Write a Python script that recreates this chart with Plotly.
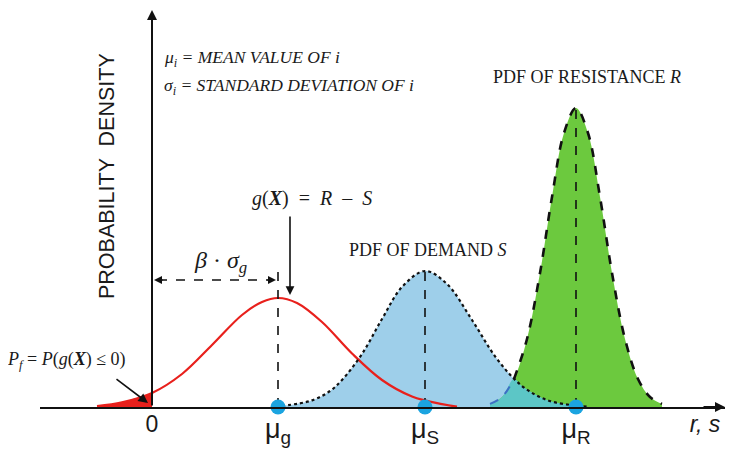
import plotly.graph_objects as go

# ---- data (x: r,s axis units, y: probability density units) ----
mu_labels = ["μ<sub>g</sub>", "μ<sub>S</sub>", "μ<sub>R</sub>"]
mu_g, mu_S, mu_R = 1.26, 2.73, 4.24
end_labels = ["0", "<i>r, s</i>"]
end_pos = [0, 5.53]

g_x = [-0.55, -0.3, 0.0, 0.3, 0.6, 0.9, 1.1, 1.26, 1.45, 1.7, 2.0, 2.3, 2.6, 2.9, 3.05]
g_y = [0.008, 0.046, 0.14, 0.33, 0.62, 0.92, 1.05, 1.09, 1.04, 0.85, 0.535, 0.27, 0.105, 0.028, 0.004]

pf_x = [-0.55, -0.3, 0.0, 0.0]
pf_y = [0.008, 0.046, 0.14, 0.0]

s_x = [1.3, 1.6, 1.78, 1.9, 2.1, 2.3, 2.5, 2.73, 2.95, 3.2, 3.45, 3.7, 3.95, 4.2, 4.35]
s_y = [0.011, 0.066, 0.16, 0.27, 0.53, 0.88, 1.20, 1.36, 1.23, 0.87, 0.48, 0.21, 0.069, 0.018, 0.004]

r_x = [3.38, 3.5, 3.62, 3.75, 3.88, 4.0, 4.12, 4.24, 4.36, 4.48, 4.6, 4.73, 4.86, 4.98, 5.1]
r_y = [0.031, 0.10, 0.28, 0.68, 1.34, 2.10, 2.74, 2.99, 2.74, 2.10, 1.34, 0.68, 0.28, 0.10, 0.031]

ov_x = [3.38, 3.5, 3.62, 3.7, 3.95, 4.2, 4.35]
ov_y = [0.031, 0.10, 0.28, 0.21, 0.069, 0.018, 0.004]

beta_level = 1.27
mu_g_line_top = 1.42

SERIF = "Liberation Serif"
SANS = "Liberation Sans"
XR = [-1.12, 5.73]

fig = go.Figure()

# fills
fig.add_trace(go.Scatter(x=s_x, y=s_y, mode="lines", line=dict(width=0, shape="spline"),
                         fill="tozeroy", fillcolor="#9ecfea", hoverinfo="skip"))
fig.add_trace(go.Scatter(x=r_x, y=r_y, mode="lines", line=dict(width=0, shape="spline"),
                         fill="tozeroy", fillcolor="#6cc93e", hoverinfo="skip"))
fig.add_trace(go.Scatter(x=ov_x, y=ov_y, mode="lines", line=dict(width=0, shape="spline"),
                         fill="tozeroy", fillcolor="#5cc6c6", hoverinfo="skip"))
fig.add_trace(go.Scatter(x=pf_x, y=pf_y, mode="lines", line=dict(width=0),
                         fill="tozeroy", fillcolor="#e8201c", hoverinfo="skip"))

# outlines
fig.add_trace(go.Scatter(x=g_x, y=g_y, mode="lines",
                         line=dict(color="#e8201c", width=2.2, shape="spline")))
fig.add_trace(go.Scatter(x=s_x, y=s_y, mode="lines",
                         line=dict(color="#111", width=2.2, dash="dot", shape="spline")))
fig.add_trace(go.Scatter(x=r_x[2:], y=r_y[2:], mode="lines",
                         line=dict(color="#111", width=2.6, dash="dash", shape="spline")))
fig.add_trace(go.Scatter(x=r_x[:3], y=r_y[:3], mode="lines",
                         line=dict(color="#3d6fc4", width=2, dash="dash", shape="spline")))

# vertical dashed mean lines
for xm, ym in [(mu_g, mu_g_line_top), (mu_S, max(s_y)), (mu_R, max(r_y))]:
    fig.add_trace(go.Scatter(x=[xm, xm], y=[0, ym], mode="lines",
                             line=dict(color="#111", width=1.6, dash="dash")))

# beta * sigma arrow (dashed)
fig.add_trace(go.Scatter(x=[0.06, mu_g - 0.06], y=[beta_level, beta_level], mode="lines",
                         line=dict(color="#111", width=1.6, dash="dash")))

# mean dots (on the overlaid axis that carries the "0" and "r, s" labels)
fig.add_trace(go.Scatter(x=[mu_g, mu_S, mu_R], y=[0, 0, 0], mode="markers", xaxis="x2",
                         marker=dict(color="#1ba4e0", size=15), cliponaxis=False))

ann = []
def arrow(x0, y0, x1, y1, w=1.6, head=2, size=1.0):
    ann.append(dict(x=x1, y=y1, ax=x0, ay=y0, xref="x", yref="y", axref="x", ayref="y",
                    text="", showarrow=True, arrowhead=head, arrowsize=size,
                    arrowwidth=w, arrowcolor="#111"))

# axes arrows
arrow(0, 0, 0, 3.97, w=2, head=2, size=1.0)
arrow(5.5, 0, 5.73, 0, w=2, head=2, size=1.0)
# beta arrow heads
arrow(0.12, beta_level, 0.02, beta_level, w=1.6, head=2, size=1.0)
arrow(mu_g - 0.12, beta_level, mu_g - 0.02, beta_level, w=1.6, head=2, size=1.0)
# g(X) arrow
arrow(1.38, 1.92, 1.38, 1.12, w=1.6, head=2, size=1.1)
# Pf arrow
arrow(-0.37, 0.29, -0.04, 0.04, w=1.6, head=2, size=1.2)

def txt(x, y, s, size=15, family=SERIF, xanchor="center", angle=0, xref="x"):
    ann.append(dict(x=x, y=y, xref=xref, yref="y", text=s, showarrow=False,
                    font=dict(family=family, size=size, color="#1a1a1a"),
                    xanchor=xanchor, yanchor="middle", textangle=angle))

txt(-0.45, 2.31, "PROBABILITY  DENSITY", size=21.5, family=SANS, angle=-90)
txt(0.10, 3.49, "<i>μ<sub>i</sub> = MEAN VALUE OF i</i>", size=17.5, xanchor="left")
txt(0.10, 3.21, "<i>σ<sub>i</sub> = STANDARD DEVIATION OF i</i>", size=17.5, xanchor="left")
txt(4.35, 3.30, "PDF OF RESISTANCE <i>R</i>", size=18)
txt(2.76, 1.57, "PDF OF DEMAND <i>S</i>", size=18)
txt(1.60, 2.09, "<i>g</i>(<b><i>X</i></b>)  =  <i>R</i>  –  <i>S</i>", size=20)
txt(0.68, 1.45, "<i>β</i> · <i>σ</i><sub><i>g</i></sub>", size=24)
txt(-0.051, 0.47, "<i>P<sub>f</sub></i> = <i>P</i>(<i>g</i>(<b><i>X</i></b>) ≤ 0)", size=18,
    xanchor="left", xref="paper")

# page body has an 8px margin: figure is shifted accordingly
fig.update_layout(
    width=725, height=442,
    margin=dict(l=32, r=8, t=0, b=43),
    paper_bgcolor="white", plot_bgcolor="white",
    showlegend=False,
    annotations=ann,
    xaxis=dict(range=XR, showgrid=False, zeroline=False, showline=True,
               linecolor="#111", linewidth=2, ticks="", tickvals=[mu_g, mu_S, mu_R],
               ticktext=mu_labels, ticklabelstandoff=-3,
               tickfont=dict(family=SANS, size=27, color="#1a1a1a")),
    xaxis2=dict(range=XR, overlaying="x", side="bottom", anchor="y", showgrid=False,
                zeroline=False, showline=False, ticks="", tickvals=end_pos, ticktext=end_labels,
                ticklabelstandoff=1,
                tickfont=dict(family=SANS, size=23, color="#1a1a1a")),
    yaxis=dict(range=[0, 3.99], visible=False),
)

fig.write_html("out.html")
